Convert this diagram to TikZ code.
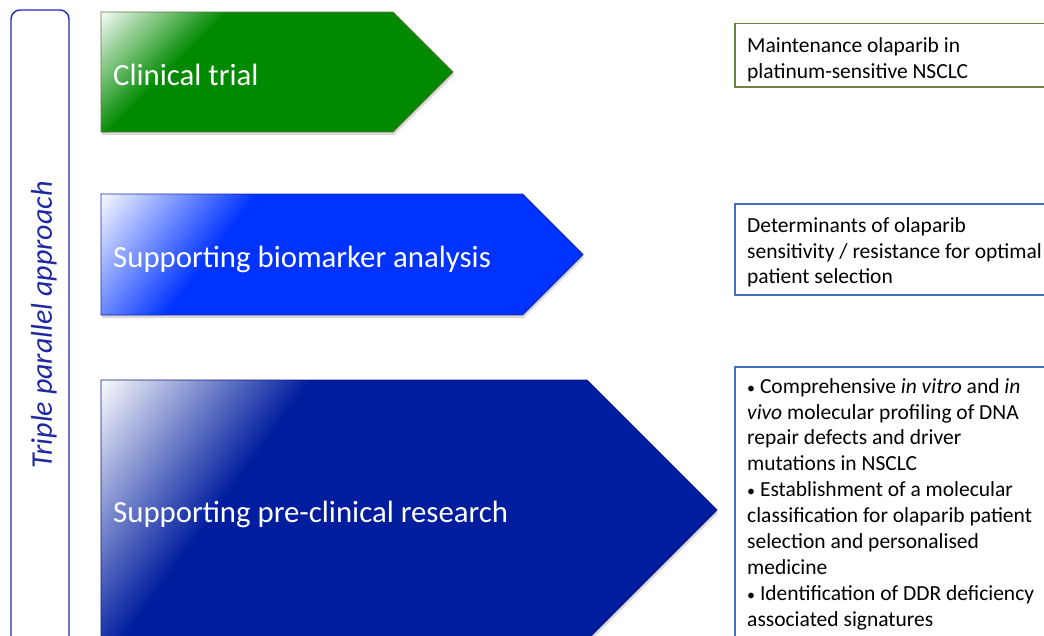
\documentclass[tikz,border=0pt]{standalone}
\usepackage{fontspec}
\setmainfont{Carlito}
\definecolor{cgreen}{RGB}{0,138,0}
\definecolor{cblue}{RGB}{0,51,255}
\definecolor{cnavy}{RGB}{0,29,158}
\definecolor{gborder}{RGB}{95,115,60}
\definecolor{bborder}{RGB}{20,40,180}
\definecolor{nborder}{RGB}{10,20,130}
\definecolor{oliveframe}{RGB}{110,128,70}
\definecolor{steelframe}{RGB}{70,110,190}
\definecolor{leftframe}{RGB}{30,40,190}
\definecolor{lefttext}{RGB}{30,40,160}
% #1 left x, #2 top y, #3 bottom y, #4 tip x, #5 colour, #6 border, #7 gradient angle, #8 gradient length
\newcommand\mychevron[8]{%
  \pgfmathsetmacro\cornx{#4-(#3-#2)/2}%
  \pgfmathsetmacro\midy{(#2+#3)/2}%
  \fill[black,opacity=0.15] ({#1+1},{#2+3}) -- ({\cornx+1},{#2+3}) -- ({#4+1},{\midy+3}) -- ({\cornx+1},{#3+3}) -- ({#1+1},{#3+3}) -- cycle;
  \begin{scope}
    \clip (#1,#2) -- (\cornx,#2) -- (#4,\midy) -- (\cornx,#3) -- (#1,#3) -- cycle;
    \fill[#5] (#1,#2) rectangle (#4,#3);
    \begin{scope}[transform canvas={shift={(#1,#2)},rotate=#7}]
      \shade[left color=white, middle color=#5!45!white, right color=#5] (-3,-500) rectangle (#8,500);
    \end{scope}
  \end{scope}
  \draw[#6,line width=0.8] (#1,#2) -- (\cornx,#2) -- (#4,\midy) -- (\cornx,#3) -- (#1,#3) -- cycle;
}
\newcommand\smallbullet{{\fontsize{16}{16}\selectfont•}}
\tikzset{
  armlabel/.style={anchor=base west, inner sep=0, text=white, font=\fontsize{30.8}{36}\selectfont},
  boxtext/.style={anchor=north west, inner sep=0, align=left, font=\fontsize{21.5}{25.9}\selectfont},
}
\begin{document}
\begin{tikzpicture}[x=1pt,y=-1pt]
\useasboundingbox (0,0) rectangle (1044,635);
% left frame
\draw[leftframe,line width=1.4,rounded corners=9] (11,10) rectangle (69,645);
\node[rotate=90, text=lefttext, font=\fontsize{30}{36}\selectfont\itshape] (side) at (44,325) {Triple parallel approach};
% arrows
\mychevron{101}{12}{132}{453}{cgreen}{gborder}{-45}{90}
\mychevron{101}{194}{315}{583}{cblue}{bborder}{-37}{125}
\mychevron{101}{380}{640}{717}{cnavy}{nborder}{-36}{170}
\node[armlabel] (l1) at (113,85) {Clinical trial};
\node[armlabel] (l2) at (113,267) {Supporting biomarker analysis};
\node[armlabel] (l3) at (113,522) {Supporting pre-clinical research};
% text boxes
\draw[oliveframe,line width=1.1] (735,23.5) rectangle (1060,87);
\draw[steelframe,line width=1.1] (735,204) rectangle (1060,295);
\draw[steelframe,line width=1.1] (735,367) rectangle (1060,660);
\node[boxtext] (t1) at (747,37) {Maintenance olaparib in\\platinum-sensitive NSCLC};
\node[boxtext] (t2) at (747,217) {Determinants of olaparib\\sensitivity / resistance for optimal\\patient selection};
\node[boxtext] (t3) at (747,378) {\smallbullet{} Comprehensive \textit{in vitro} and \textit{in}\\\textit{vivo} molecular profiling of DNA\\repair defects and driver\\mutations in NSCLC\\\smallbullet{} Establishment of a molecular\\classification for olaparib patient\\selection and personalised\\medicine\\\smallbullet{} Identification of DDR deficiency\\associated signatures};
\end{tikzpicture}
\end{document}
